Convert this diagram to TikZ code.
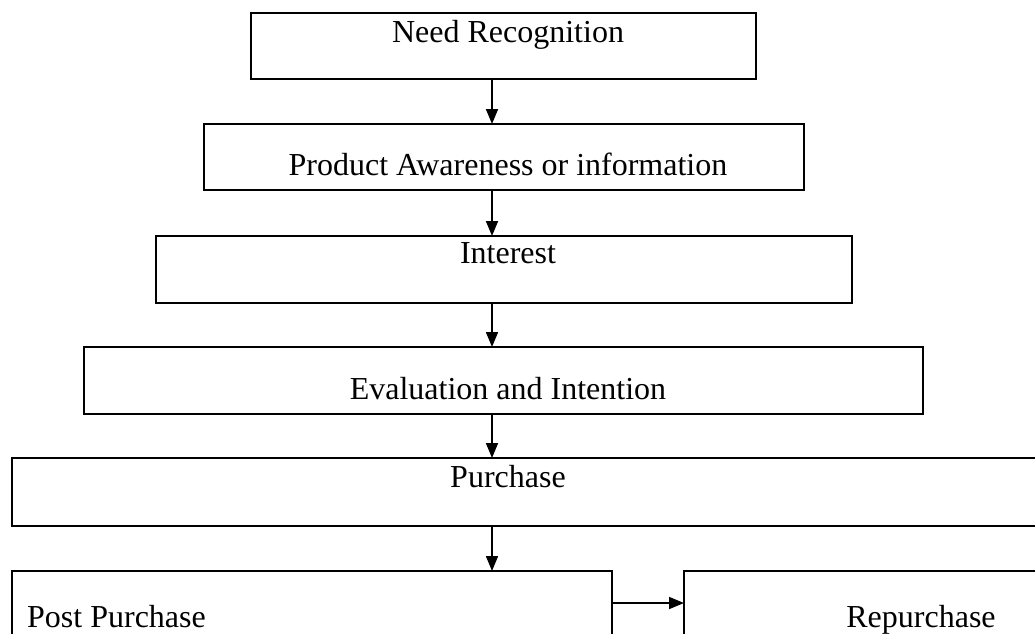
\documentclass[tikz,border=0pt]{standalone}
\usepackage{fontspec}
\setmainfont{Liberation Serif}
\usetikzlibrary{arrows.meta}
\tikzset{
  box/.style={draw, line width=1.6pt, inner sep=0pt, outer sep=0pt},
  lbl/.style={inner sep=0pt, anchor=base, font=\fontsize{32}{38}\selectfont},
  arr/.style={line width=1.7pt, -{Triangle[length=15pt,width=12pt]}},
}
\newcommand{\boxnode}[5]{%
  \node[box, minimum width={(#4-#2)*1pt}, minimum height={(#5-#3)*1pt}] (#1) at ({(#2+#4)/2},{(#3+#5)/2}) {};}
\begin{document}
\begin{tikzpicture}[x=1pt,y=-1pt]
\useasboundingbox (0,0) rectangle (1035,633);
\clip (0,0) rectangle (1035,633);
\fill[white] (0,0) rectangle (1035,633);
\boxnode{b1}{251}{13}{756}{79}
\boxnode{b2}{204}{124}{804}{190}
\boxnode{b3}{156}{236}{852}{303}
\boxnode{b4}{84}{347}{923}{414}
\boxnode{b5}{12}{458}{1060}{526}
\boxnode{b6}{12}{571}{612}{660}
\boxnode{b7}{684}{571}{1060}{660}
\node[lbl] (t1) at (508,42) {Need Recognition};
\node[lbl] (t2) at (508,175) {Product Awareness or information};
\node[lbl] (t3) at (508,263) {Interest};
\node[lbl] (t4) at (508,399) {Evaluation and Intention};
\node[lbl] (t5) at (508,487) {Purchase};
\node[lbl, anchor=base west] (t6) at (27,627) {Post Purchase};
\node[lbl] (t7) at (921,627) {Repurchase};
\coordinate (ax) at (492,0);
\coordinate (ay) at (0,603);
\draw[arr] (ax |- b1.south) -- (ax |- b2.north);
\draw[arr] (ax |- b2.south) -- (ax |- b3.north);
\draw[arr] (ax |- b3.south) -- (ax |- b4.north);
\draw[arr] (ax |- b4.south) -- (ax |- b5.north);
\draw[arr] (ax |- b5.south) -- (ax |- b6.north);
\draw[arr] (b6.east |- ay) -- (b7.west |- ay);
\end{tikzpicture}
\end{document}
